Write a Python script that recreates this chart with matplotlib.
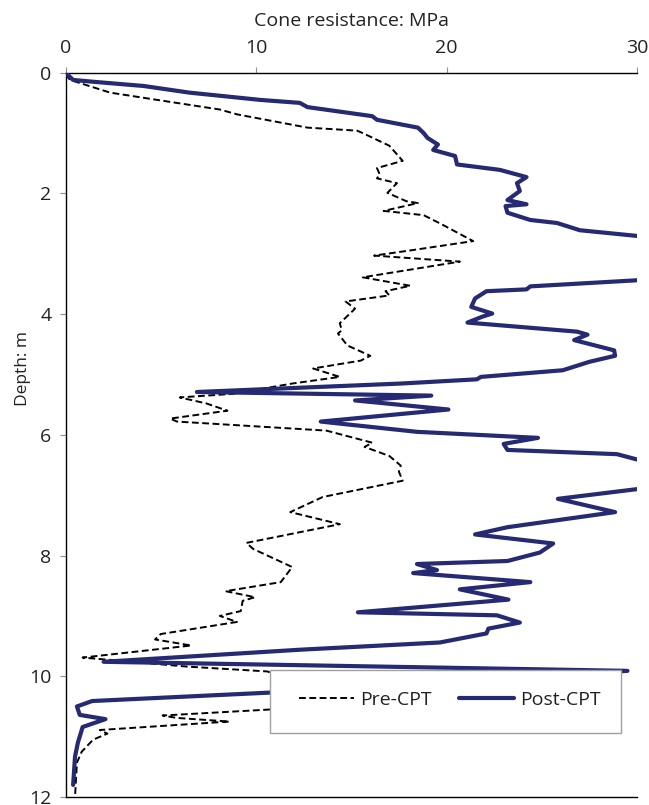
import matplotlib
matplotlib.use("Agg")
import matplotlib.pyplot as plt
from matplotlib.patches import Rectangle

plt.rcParams['font.family'] = ['Open Sans', 'DejaVu Sans']

# Pre-CPT cone resistance (MPa) vs depth (m)
pre_q = [0, 0.24, 2.34, 4.8, 8.1, 9.0, 12.7, 15.3, 15.6, 17.0, 17.7, 16.35, 16.5, 16.35, 17.4,
         16.9, 17.9, 18.5, 16.7, 18.8, 19.8, 21.4, 18.2, 16.2, 20.7, 15.6, 18.1, 16.8, 17.0, 14.7,
         15.2, 14.4, 14.5, 14.3, 14.8, 16.0, 15.5, 13.0, 14.4, 11.9, 8.8, 6.0, 7.4, 8.5, 5.5,
         5.85, 13.7, 16.1, 15.7, 17.0, 17.6, 17.5, 17.7, 13.5, 11.8, 14.4, 9.5, 9.85, 11.9, 11.3,
         8.4, 9.95, 9.3, 9.2, 8.1, 9.0, 5.0, 4.7, 6.6, 0.9, 6.4, 10.6, 12.0, 11.5, 10.75, 5.1,
         5.85, 8.6, 1.8, 2.2, 1.45, 0.85, 0.6, 0.5]
pre_depth = [0.03, 0.12, 0.33, 0.45, 0.61, 0.69, 0.91, 0.96, 1.0, 1.21, 1.46, 1.58, 1.69, 1.75, 1.83,
             1.99, 2.13, 2.16, 2.29, 2.36, 2.52, 2.79, 2.94, 3.03, 3.13, 3.39, 3.53, 3.62, 3.69, 3.79,
             3.91, 4.15, 4.27, 4.32, 4.52, 4.69, 4.77, 4.90, 5.04, 5.15, 5.32, 5.38, 5.48, 5.60, 5.73,
             5.78, 5.93, 6.13, 6.20, 6.35, 6.51, 6.61, 6.76, 7.03, 7.28, 7.48, 7.79, 7.89, 8.19, 8.44,
             8.59, 8.69, 8.75, 8.92, 9.0, 9.1, 9.3, 9.39, 9.49, 9.69, 9.84, 9.92, 10.1, 10.45, 10.55, 10.65,
             10.69, 10.75, 10.89, 10.95, 11.05, 11.25, 11.43, 12.0]

# Post-CPT cone resistance (MPa) vs depth (m)
post_q = [0, 0.4, 1.45, 4.1, 6.5, 10.2, 12.3, 12.7, 16.1, 16.35, 18.5, 18.8, 19.0, 19.55, 19.3,
          20.45, 20.55, 22.8, 24.2, 23.7, 23.85, 23.2, 24.2, 23.1, 23.2, 24.4, 25.8, 27.0, 30.5, 33,
          30.5, 24.4, 24.2, 22.1, 21.5, 21.3, 22.4, 21.9, 21.1, 26.85, 27.4, 26.7, 28.8, 28.85, 27.5,
          26.1, 21.8, 21.6, 17.6, 6.9, 19.2, 15.2, 20.1, 13.4, 18.45, 24.8, 23.0, 23.2, 28.95, 30.5,
          33, 30.5, 25.85, 28.85, 23.2, 21.5, 25.6, 24.9, 23.2, 18.45, 19.5, 18.25, 24.4, 20.7, 23.25,
          15.35, 22.65, 23.85, 22.2, 22.1, 19.65, 12.3, 2.0, 29.5, 20, 10.75, 1.4, 0.6, 0.75, 2.1,
          0.9, 0.65, 0.5, 0.4]
post_depth = [0, 0.12, 0.15, 0.22, 0.33, 0.45, 0.5, 0.57, 0.72, 0.78, 0.91, 1.0, 1.08, 1.19, 1.28,
              1.38, 1.52, 1.61, 1.73, 1.83, 1.96, 2.11, 2.18, 2.21, 2.32, 2.44, 2.49, 2.61, 2.72, 3.0,
              3.43, 3.54, 3.59, 3.62, 3.74, 3.88, 3.99, 4.04, 4.14, 4.29, 4.34, 4.43, 4.60, 4.69, 4.79,
              4.93, 5.04, 5.08, 5.15, 5.29, 5.35, 5.43, 5.58, 5.78, 5.95, 6.05, 6.15, 6.25, 6.32, 6.45,
              6.7, 6.88, 7.06, 7.28, 7.53, 7.65, 7.80, 7.95, 8.09, 8.14, 8.24, 8.29, 8.44, 8.56, 8.73,
              8.94, 8.99, 9.11, 9.21, 9.29, 9.44, 9.56, 9.76, 9.91, 10.1, 10.27, 10.41, 10.5, 10.64, 10.71,
              10.84, 11.1, 11.33, 11.8]

x_ticks = [0, 10, 20, 30]
y_ticks = [0, 2, 4, 6, 8, 10, 12]

fig = plt.figure(figsize=(6.49, 8.05), dpi=100)
ax = fig.add_axes([65.5 / 649, 1 - 797 / 805, (637 - 65.5) / 649, (797 - 72.7) / 805])

ax.plot(pre_q, pre_depth, color='black', lw=1.4, ls=(0, (3.5, 1.8)), label='Pre-CPT', zorder=2)
ax.plot(post_q, post_depth, color='#252a72', lw=3.0, label='Post-CPT', zorder=3,
        solid_joinstyle='round', solid_capstyle='round')

ax.set_xlim(0, 30)
ax.set_ylim(12, 0)
ax.set_xticks(x_ticks)
ax.set_yticks(y_ticks)
ax.xaxis.tick_top()
ax.xaxis.set_label_position('top')
ax.tick_params(axis='both', direction='out', length=4, width=0.8, color='#909090',
               labelsize=14, labelcolor='#222222')
ax.tick_params(axis='x', pad=7)
ax.tick_params(axis='y', pad=6)
ax.set_xlabel('Cone resistance: MPa', fontsize=14, color='#222222', labelpad=10)
ax.set_ylabel('Depth: m', fontsize=12.5, color='#222222')
ax.yaxis.set_label_coords(-0.060, 0.591)

for s in ['left', 'top', 'bottom']:
    ax.spines[s].set_color('black')
    ax.spines[s].set_linewidth(1.0)
ax.spines['right'].set_visible(False)

# legend box
ax.add_patch(Rectangle((0.358, 0.0886), 0.972 - 0.358, 0.176 - 0.0886, transform=ax.transAxes,
                       facecolor='white', edgecolor='#a0a0a0', lw=1.0, zorder=4))
leg = ax.legend(loc='center', bbox_to_anchor=(0.673, 0.134), ncol=2, frameon=False,
                fontsize=14, handlelength=2.8, handletextpad=0.35, columnspacing=1.4,
                labelcolor='#222222')
leg.set_zorder(5)

fig.savefig('out.png', dpi=100)
